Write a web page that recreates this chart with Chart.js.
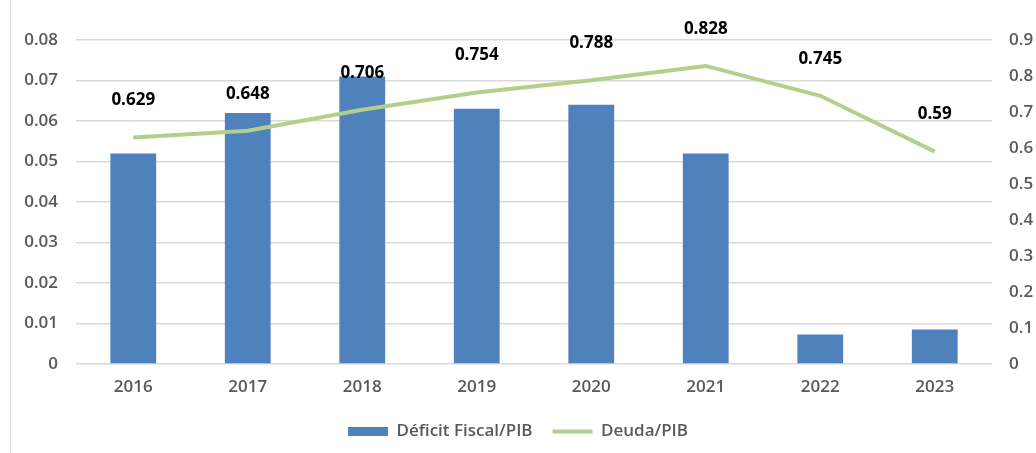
<!DOCTYPE html>
<html lang="es">
<head>
<meta charset="utf-8">
<title>Déficit Fiscal y Deuda / PIB</title>
<script src="https://cdn.jsdelivr.net/npm/chart.js@4/dist/chart.umd.min.js"></script>
<style>
  html, body { margin: 0; padding: 0; background: #fff; }
  #wrap { position: relative; width: 1036px; height: 453px; }
  #frame { position: absolute; left: 10px; top: 0; width: 1px; height: 453px; background: #d9d9d9; }
  canvas { position: absolute; left: 0; top: 0; }
</style>
</head>
<body>
<div id="wrap">
  <div id="frame"></div>
  <canvas id="chart" width="1036" height="453"></canvas>
</div>
<script>
const years = ["2016", "2017", "2018", "2019", "2020", "2021", "2022", "2023"];
const deficitPib = [0.052, 0.062, 0.071, 0.063, 0.064, 0.052, 0.0073, 0.0085];
const deudaPib = [0.629, 0.648, 0.706, 0.754, 0.788, 0.828, 0.745, 0.59];
const leftTicks = [0, 0.01, 0.02, 0.03, 0.04, 0.05, 0.06, 0.07, 0.08];
const rightTicks = [0, 0.1, 0.2, 0.3, 0.4, 0.5, 0.6, 0.7, 0.8, 0.9];

const BLUE = "#4f81bd";
const GREEN = "#b4cf8b";
const AXIS_TEXT = "#595959";
const GRID = "#d9d9d9";
const FONT = "'Open Sans', 'DejaVu Sans', sans-serif";

// etiquetas de Deuda/PIB sobre cada punto
const lineLabels = {
  id: "lineLabels",
  afterDatasetsDraw(chart) {
    const meta = chart.getDatasetMeta(1);
    const ctx = chart.ctx;
    ctx.save();
    ctx.font = "700 17px " + FONT;
    ctx.fillStyle = "#000";
    ctx.textAlign = "center";
    ctx.textBaseline = "middle";
    meta.data.forEach((pt, i) => {
      ctx.fillText(String(deudaPib[i]), pt.x, pt.y - 37);
    });
    ctx.restore();
  }
};

new Chart(document.getElementById("chart"), {
  type: "bar",
  data: {
    labels: years,
    datasets: [
      {
        type: "bar",
        label: "Déficit Fiscal/PIB",
        data: deficitPib,
        backgroundColor: BLUE,
        barPercentage: 0.4,
        categoryPercentage: 1,
        yAxisID: "yLeft",
        order: 2
      },
      {
        type: "line",
        label: "Deuda/PIB",
        data: deudaPib,
        borderColor: GREEN,
        backgroundColor: GREEN,
        borderWidth: 4,
        tension: 0,
        pointRadius: 0,
        yAxisID: "yRight",
        order: 1
      }
    ]
  },
  options: {
    responsive: false,
    animation: false,
    layout: { padding: { top: 40, left: 0, right: 0, bottom: 3 } },
    plugins: {
      tooltip: { enabled: false },
      legend: {
        position: "bottom",
        labels: {
          color: AXIS_TEXT,
          font: { family: FONT, size: 17, weight: "600" },
          usePointStyle: true,
          pointStyleWidth: 40,
          boxHeight: 9,
          padding: 20,
          generateLabels: (chart) => chart.data.datasets.map((ds, i) => ({
            text: ds.label,
            datasetIndex: i,
            fillStyle: ds.type === "line" ? ds.borderColor : ds.backgroundColor,
            strokeStyle: ds.type === "line" ? ds.borderColor : ds.backgroundColor,
            lineWidth: ds.type === "line" ? 4 : 0,
            pointStyle: ds.type === "line" ? "line" : "rect",
            fontColor: AXIS_TEXT,
            hidden: false
          }))
        }
      }
    },
    scales: {
      x: {
        grid: { display: false, drawTicks: false },
        border: { display: false },
        ticks: {
          color: AXIS_TEXT,
          padding: 13,
          font: { family: FONT, size: 17, weight: "600" }
        },
        afterFit: (s) => { s.height = 39; }
      },
      yLeft: {
        position: "left",
        min: 0,
        max: 0.08,
        afterBuildTicks: (s) => { s.ticks = leftTicks.map((v) => ({ value: v })); },
        grid: { color: GRID, lineWidth: 1.5, drawTicks: false },
        border: { display: false },
        ticks: {
          color: AXIS_TEXT,
          padding: 18,
          font: { family: FONT, size: 17, weight: "600" },
          callback: (v) => String(v)
        },
        afterFit: (s) => { s.width = 76; }
      },
      yRight: {
        position: "right",
        min: 0,
        max: 0.9,
        afterBuildTicks: (s) => { s.ticks = rightTicks.map((v) => ({ value: v })); },
        grid: { drawOnChartArea: false, drawTicks: false },
        border: { display: false },
        ticks: {
          color: AXIS_TEXT,
          padding: 17,
          font: { family: FONT, size: 17, weight: "600" },
          callback: (v) => String(v)
        },
        afterFit: (s) => { s.width = 44; }
      }
    }
  },
  plugins: [lineLabels]
});
</script>
</body>
</html>
